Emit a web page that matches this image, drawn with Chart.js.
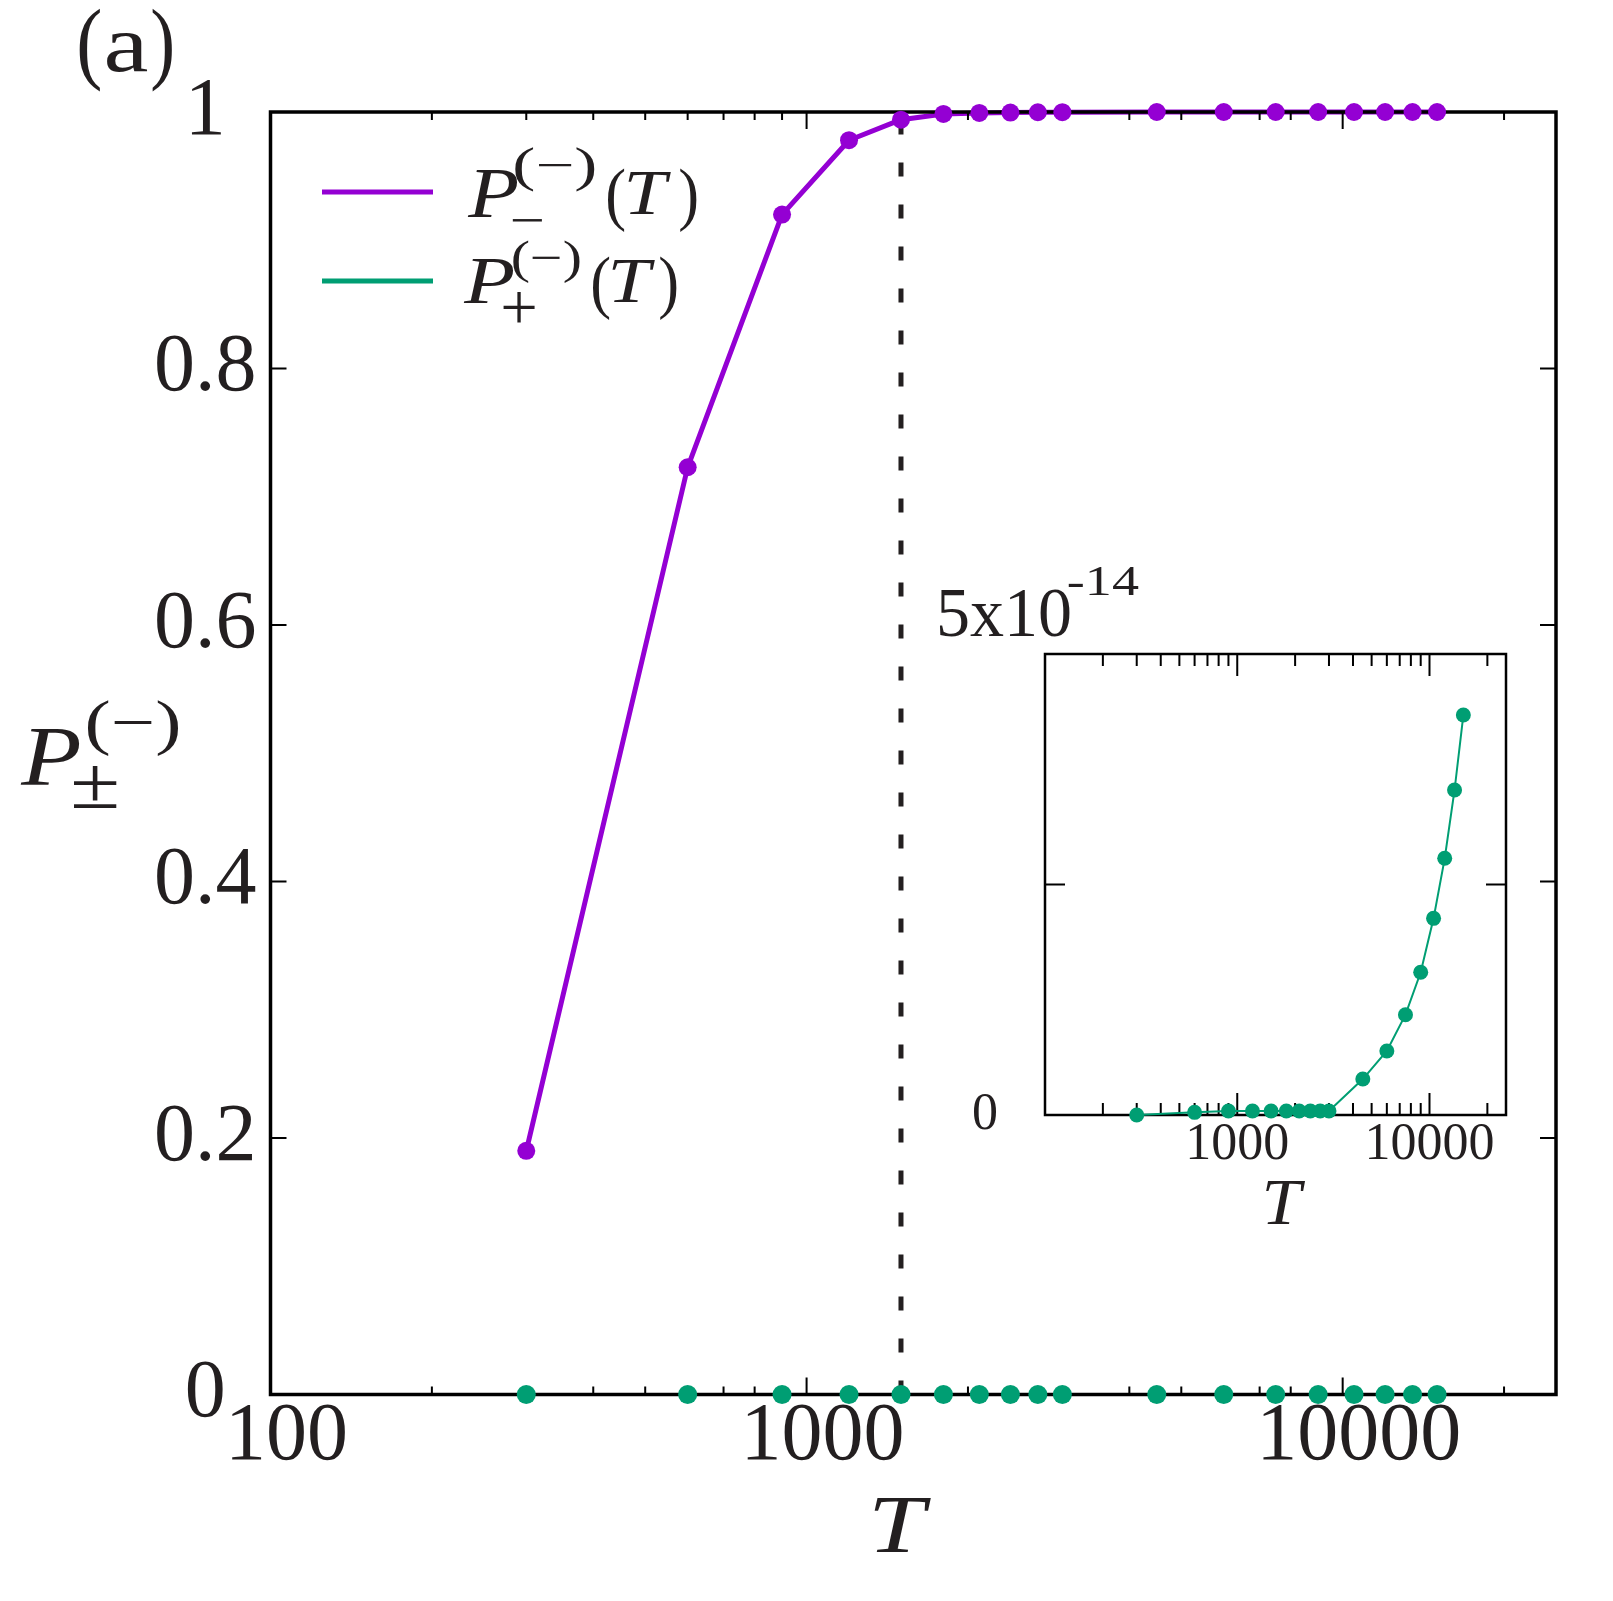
<!DOCTYPE html>
<html><head><meta charset="utf-8">
<script src="https://cdn.jsdelivr.net/npm/chart.js@4.4.1/dist/chart.umd.min.js"></script>
<style>
html,body{margin:0;padding:0;background:#fff;}
#wrap{position:relative;width:1613px;height:1601px;background:#fff;}
#main{position:absolute;left:0;top:0;}
#inset{position:absolute;left:900px;top:540px;}
</style></head><body>
<div id="wrap">
<canvas id="main" width="1613" height="1601"></canvas>
<canvas id="inset" width="650" height="700"></canvas>
</div>
<script>
// ---------------- data ----------------
const T = [300, 600, 900, 1200, 1500, 1800, 2100, 2400, 2700, 3000, 4500, 6000, 7500, 9000, 10500, 12000, 13500, 15000];
const pMinus = [0.19, 0.723, 0.920, 0.978, 0.994, 0.9985, 0.9993, 0.9996, 0.9998, 0.9999, 1, 1, 1, 1, 1, 1, 1, 1];
const pPlus = [0, 2.9e-16, 4.3e-16, 4.3e-16, 4.3e-16, 4.3e-16, 4.3e-16, 4.3e-16, 4.3e-16, 4.3e-16,
               3.9e-15, 6.94e-15, 1.088e-14, 1.548e-14, 2.133e-14, 2.784e-14, 3.525e-14, 4.338e-14];
const TMarker = 1500;
const markerSpan = [0, 1];

const xRange = [100, 25000];
const xTickValues = [100, 1000, 10000];
const xTickLabels = ['100', '1000', '10000'];
const xMinorTicks = [200, 300, 400, 500, 600, 700, 800, 900, 2000, 3000, 4000, 5000, 6000, 7000, 8000, 9000, 20000];
const yRange = [0, 1];
const yTickValues = [0, 0.2, 0.4, 0.6, 0.8, 1];
const yTickLabels = ['0', '0.2', '0.4', '0.6', '0.8', '1'];

const insetYRange = [0, 5e-14];
const insetYTickValues = [0, 2.5e-14, 5e-14];
const insetYTickLabels = ['0', '', ''];
const insetXTickValues = [1000, 10000];
const insetXTickLabels = ['1000', '10000'];

// ---------------- style ----------------
const INK = '#231f20', FRAME = '#000000', PURPLE = '#9400d3', GREEN = '#009e73';
const SERIF = '"Liberation Serif","Times New Roman",serif';

function fitText(ctx, s, font, box, color) {
  const [l, t, r, b] = box;
  ctx.save();
  ctx.font = font; ctx.textAlign = 'left'; ctx.textBaseline = 'alphabetic';
  const m = ctx.measureText(s);
  const w = m.actualBoundingBoxLeft + m.actualBoundingBoxRight;
  const h = m.actualBoundingBoxAscent + m.actualBoundingBoxDescent;
  const sx = (r - l) / w, sy = (b - t) / h;
  ctx.translate(l + m.actualBoundingBoxLeft * sx, t + m.actualBoundingBoxAscent * sy);
  ctx.scale(sx, sy);
  ctx.fillStyle = color || INK;
  ctx.fillText(s, 0, 0);
  ctx.restore();
}

function drawFrame(ctx, a, xs, ys, o) {
  ctx.save();
  ctx.strokeStyle = FRAME;
  ctx.lineWidth = o.frameW;
  ctx.strokeRect(a.left, a.top, a.right - a.left, a.bottom - a.top);
  ctx.lineWidth = o.tickW;
  ctx.beginPath();
  const xt = (vals, len) => vals.forEach(v => {
    const p = xs.getPixelForValue(v);
    if (p <= a.left + 1 || p >= a.right - 1) return;
    ctx.moveTo(p, a.bottom); ctx.lineTo(p, a.bottom - len);
    ctx.moveTo(p, a.top); ctx.lineTo(p, a.top + len);
  });
  xt(o.xMajor, o.xMajorLen);
  xt(o.xMinor, o.xMinorLen);
  o.yVals.forEach(v => {
    const p = ys.getPixelForValue(v);
    if (p <= a.top + 1 || p >= a.bottom - 1) return;
    ctx.moveTo(a.left, p); ctx.lineTo(a.left + o.yLen, p);
    ctx.moveTo(a.right, p); ctx.lineTo(a.right - o.yLen, p);
  });
  ctx.stroke();
  ctx.restore();
}

// ---------------- main chart ----------------
const mainDeco = {
  id: 'mainDeco',
  afterDatasetDraw(chart, args) {
    if (args.index !== 2) return;
    drawFrame(chart.ctx, chart.chartArea, chart.scales.x, chart.scales.y, {
      frameW: 3.5, tickW: 2, xMajor: xTickValues, xMinor: xMinorTicks,
      xMajorLen: 17, xMinorLen: 8, yVals: yTickValues, yLen: 16
    });
  },
  afterDraw(chart) {
    const ctx = chart.ctx;
    // panel tag
    fitText(ctx, '(', `86px ${SERIF}`, [79, 8, 100, 92]);
    fitText(ctx, 'a', `86px ${SERIF}`, [107, 33, 147, 72]);
    fitText(ctx, ')', `86px ${SERIF}`, [152, 8, 172, 92]);
    // y title  P_±^(−)
    fitText(ctx, 'P', `italic 84px ${SERIF}`, [20, 728, 80, 785]);
    fitText(ctx, '±', `64px ${SERIF}`, [73, 766, 117, 808]);
    fitText(ctx, '(−)', `62px ${SERIF}`, [87, 700, 178, 757]);
    // x title
    fitText(ctx, 'T', `italic 86px ${SERIF}`, [874, 1497, 931, 1553]);
    // legend
    ctx.save();
    ctx.lineWidth = 5; ctx.lineCap = 'butt';
    ctx.strokeStyle = PURPLE; ctx.beginPath(); ctx.moveTo(322, 192); ctx.lineTo(433, 192); ctx.stroke();
    ctx.strokeStyle = GREEN; ctx.beginPath(); ctx.moveTo(322, 281); ctx.lineTo(433, 281); ctx.stroke();
    ctx.restore();
    // line 1: P_-^(−)(T)
    fitText(ctx, 'P', `italic 70px ${SERIF}`, [467, 170, 517, 217]);
    fitText(ctx, '−', `50px ${SERIF}`, [512, 219, 542, 222]);
    fitText(ctx, '(−)', `50px ${SERIF}`, [515, 147, 595, 192]);
    fitText(ctx, '(', `70px ${SERIF}`, [608, 168, 625, 232]);
    fitText(ctx, 'T', `italic 70px ${SERIF}`, [628, 172, 672, 214]);
    fitText(ctx, ')', `70px ${SERIF}`, [680, 168, 697, 232]);
    // line 2: P_+^(−)(T)
    fitText(ctx, 'P', `italic 70px ${SERIF}`, [463, 258, 513, 303]);
    fitText(ctx, '+', `50px ${SERIF}`, [503, 292, 535, 323]);
    fitText(ctx, '(−)', `50px ${SERIF}`, [513, 240, 580, 283]);
    fitText(ctx, '(', `70px ${SERIF}`, [593, 256, 610, 320]);
    fitText(ctx, 'T', `italic 70px ${SERIF}`, [612, 261, 656, 302]);
    fitText(ctx, ')', `70px ${SERIF}`, [660, 256, 677, 320]);
  }
};

new Chart(document.getElementById('main'), {
  type: 'line',
  data: {
    datasets: [
      { label: 'P-', data: T.map((t, i) => ({ x: t, y: pMinus[i] })), showLine: false,
        pointRadius: 9, pointHoverRadius: 9, pointBackgroundColor: PURPLE, pointBorderWidth: 0, borderColor: PURPLE, clip: false },
      { label: 'P+', data: T.map((t, i) => ({ x: t, y: pPlus[i] })), showLine: false,
        pointRadius: 9.5, pointHoverRadius: 9.5, pointBackgroundColor: GREEN, pointBorderWidth: 0, borderColor: GREEN, clip: false },
      { label: 'P- line', data: T.map((t, i) => ({ x: t, y: pMinus[i] })), borderColor: PURPLE, borderWidth: 5,
        pointRadius: 0, tension: 0, clip: false, borderJoinStyle: 'round' },
      { label: 'marker', data: markerSpan.map(v => ({ x: TMarker, y: v })), borderColor: INK, borderWidth: 5,
        borderDash: [14, 28], pointRadius: 0, clip: false }
    ]
  },
  options: {
    responsive: false, animation: false, devicePixelRatio: 1, events: [],
    layout: { padding: { top: 112, right: 57, left: 0, bottom: 0 } },
    plugins: { legend: { display: false }, tooltip: { enabled: false } },
    scales: {
      x: {
        type: 'logarithmic', min: xRange[0], max: xRange[1],
        grid: { display: false, drawTicks: false }, border: { display: false },
        afterBuildTicks: s => { s.ticks = xTickValues.map(v => ({ value: v })); },
        afterFit: s => { s.height = 1601 - 1394.5; },
        ticks: {
          autoSkip: false, maxRotation: 0, minRotation: 0, padding: 2, labelOffset: 16,
          color: INK, font: { family: SERIF, size: 82, lineHeight: 1 },
          callback: v => { const i = xTickValues.indexOf(v); return i >= 0 ? xTickLabels[i] : ''; }
        }
      },
      y: {
        type: 'linear', min: yRange[0], max: yRange[1],
        grid: { display: false, drawTicks: false }, border: { display: false },
        afterBuildTicks: s => { s.ticks = yTickValues.map(v => ({ value: v })); },
        afterFit: s => { s.width = 270.5; },
        ticks: {
          autoSkip: false, crossAlign: 'center', padding: 14,
          color: INK, font: { family: SERIF, size: 82, lineHeight: 1 },
          callback: v => { const i = yTickValues.indexOf(v); return i >= 0 ? yTickLabels[i] : ''; }
        }
      }
    }
  },
  plugins: [mainDeco]
});

// ---------------- inset chart ----------------
const insetDeco = {
  id: 'insetDeco',
  beforeDatasetsDraw(chart) {
    drawFrame(chart.ctx, chart.chartArea, chart.scales.x, chart.scales.y, {
      frameW: 2.5, tickW: 2, xMajor: insetXTickValues, xMinor: xMinorTicks,
      xMajorLen: 22, xMinorLen: 12, yVals: insetYTickValues, yLen: 20
    });
  },
  afterDraw(chart) {
    const ctx = chart.ctx;
    // canvas origin is (900,540) in page coords
    fitText(ctx, '5x10', `66px ${SERIF}`, [939 - 900, 590 - 540, 1070 - 900, 637 - 540]);
    fitText(ctx, '-14', `44px ${SERIF}`, [1068 - 900, 567 - 540, 1139 - 900, 595 - 540]);
    fitText(ctx, 'T', `italic 62px ${SERIF}`, [1266 - 900, 1182 - 540, 1306 - 900, 1224 - 540]);
  }
};

new Chart(document.getElementById('inset'), {
  type: 'line',
  data: {
    datasets: [
      { label: 'P+ inset', data: T.map((t, i) => ({ x: t, y: pPlus[i] })), borderColor: GREEN, borderWidth: 2,
        pointRadius: 7.5, pointHoverRadius: 7.5, pointBackgroundColor: GREEN, pointBorderWidth: 0, tension: 0, clip: false }
    ]
  },
  options: {
    responsive: false, animation: false, devicePixelRatio: 1, events: [],
    layout: { padding: { top: 114, right: 44, left: 0, bottom: 0 } },
    plugins: { legend: { display: false }, tooltip: { enabled: false } },
    scales: {
      x: {
        type: 'logarithmic', min: xRange[0], max: xRange[1],
        grid: { display: false, drawTicks: false }, border: { display: false },
        afterBuildTicks: s => { s.ticks = insetXTickValues.map(v => ({ value: v })); },
        afterFit: s => { s.height = 125; },
        ticks: {
          autoSkip: false, maxRotation: 0, minRotation: 0, padding: 4,
          color: INK, font: { family: SERIF, size: 52, lineHeight: 1 },
          callback: v => { const i = insetXTickValues.indexOf(v); return i >= 0 ? insetXTickLabels[i] : ''; }
        }
      },
      y: {
        type: 'linear', min: insetYRange[0], max: insetYRange[1],
        grid: { display: false, drawTicks: false }, border: { display: false },
        afterBuildTicks: s => { s.ticks = insetYTickValues.map(v => ({ value: v })); },
        afterFit: s => { s.width = 145; },
        ticks: {
          autoSkip: false, crossAlign: 'center', padding: 47,
          color: INK, font: { family: SERIF, size: 52, lineHeight: 1 },
          callback: v => { const i = insetYTickValues.indexOf(v); return i >= 0 ? insetYTickLabels[i] : ''; }
        }
      }
    }
  },
  plugins: [insetDeco]
});
</script>
</body></html>
